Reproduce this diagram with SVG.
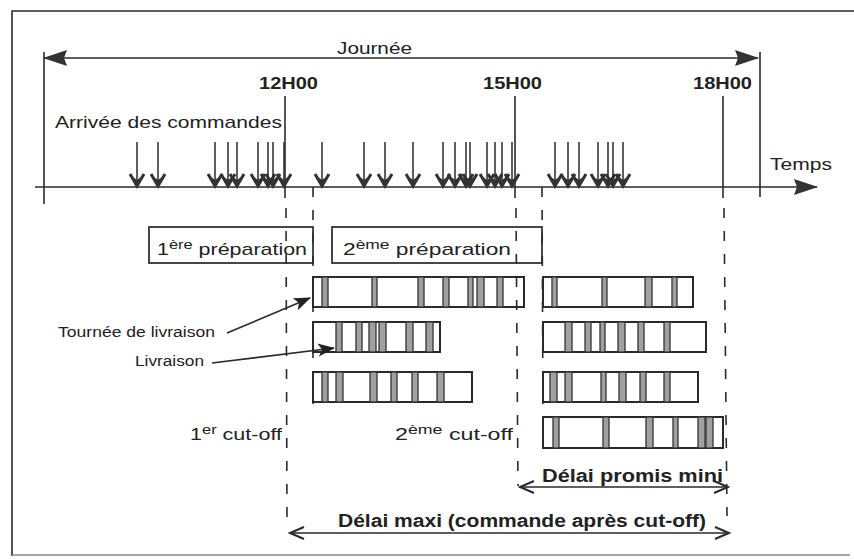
<svg xmlns="http://www.w3.org/2000/svg" width="854" height="559" viewBox="0 0 854 559">
<defs>
<style>
.t{font-family:"Liberation Sans",Arial,sans-serif;fill:#222;}
.r{font-size:17px;}
.b{font-size:17px;font-weight:bold;}
.bb{font-size:18px;font-weight:bold;}
.s{font-size:14px;}
.ln{stroke:#2a2a2a;stroke-width:1.6;fill:none;}
.dash{stroke:#2a2a2a;stroke-width:1.6;stroke-dasharray:10 13;fill:none;}
.box{fill:#fff;stroke:#333;stroke-width:1.8;}
.row{fill:#fff;stroke:#2a2a2a;stroke-width:2;}
.st{fill:#a0a0a0;stroke:#333;stroke-width:1.3;}
.ord{stroke:#2a2a2a;stroke-width:1.5;fill:none;marker-end:url(#oa);}
</style>
<marker id="oa" markerUnits="userSpaceOnUse" viewBox="-18 -10 20 20" refX="0" refY="0" markerWidth="20" markerHeight="20" orient="auto">
<path d="M-13,-7 L-1,0 L-13,7" fill="none" stroke="#333" stroke-width="3" stroke-linejoin="miter"/>
<path d="M0,0 L-10,-4 L-7,0 L-10,4 Z" fill="#333"/>
</marker>
<marker id="big" markerUnits="userSpaceOnUse" viewBox="-26 -10 28 20" refX="0" refY="0" markerWidth="28" markerHeight="20" orient="auto-start-reverse">
<path d="M1,0 L-23,-8 L-20,0 L-23,8 Z" fill="#333"/>
</marker>
<marker id="tri" markerUnits="userSpaceOnUse" viewBox="-18 -9 20 18" refX="0" refY="0" markerWidth="20" markerHeight="18" orient="auto">
<path d="M1,0 L-16,-6.5 L-12,0 L-16,6.5 Z" fill="#222"/>
</marker>
<marker id="chev" markerUnits="userSpaceOnUse" viewBox="-18 -9 20 18" refX="0" refY="0" markerWidth="20" markerHeight="18" orient="auto-start-reverse">
<path d="M-14,-6 L0,0 L-14,6" fill="none" stroke="#2a2a2a" stroke-width="2"/>
</marker>
</defs>
<rect x="0" y="0" width="854" height="559" fill="#fff"/>
<g id="frame" class="ln">
<path d="M12,556 L12,11 L854,11"/>
<path d="M12,555 L850,555" stroke="#888"/>
</g>

<g id="labels">
<text class="t r" x="337" y="54" textLength="75" lengthAdjust="spacingAndGlyphs">Journée</text>
<text class="t b" x="259" y="89" textLength="59" lengthAdjust="spacingAndGlyphs">12H00</text>
<text class="t b" x="483" y="89" textLength="59" lengthAdjust="spacingAndGlyphs">15H00</text>
<text class="t b" x="693" y="89" textLength="59" lengthAdjust="spacingAndGlyphs">18H00</text>
<text class="t r" x="55" y="128" textLength="227" lengthAdjust="spacingAndGlyphs">Arrivée des commandes</text>
<text class="t r" x="770" y="170" textLength="62" lengthAdjust="spacingAndGlyphs">Temps</text>
<text class="t s" x="58" y="337" textLength="157" lengthAdjust="spacingAndGlyphs">Tournée de livraison</text>
<text class="t s" x="135" y="366" textLength="69" lengthAdjust="spacingAndGlyphs">Livraison</text>
<text class="t r" x="190" y="440" textLength="92" lengthAdjust="spacingAndGlyphs">1<tspan font-size="13" dy="-6">er</tspan><tspan dy="6"> cut-off</tspan></text>
<text class="t r" x="395" y="440" textLength="118" lengthAdjust="spacingAndGlyphs">2<tspan font-size="13" dy="-6">ème</tspan><tspan dy="6"> cut-off</tspan></text>
<text class="t bb" x="542" y="482" textLength="181" lengthAdjust="spacingAndGlyphs">Délai promis mini</text>
<text class="t bb" x="338" y="527" textLength="368" lengthAdjust="spacingAndGlyphs">Délai maxi (commande après cut-off)</text>
</g>

<g id="prep1">
<rect class="box" x="149" y="227" width="164" height="36"/>
<text class="t r" x="157" y="255" textLength="150" lengthAdjust="spacingAndGlyphs">1<tspan font-size="13" dy="-6">ère</tspan><tspan dy="6"> préparation</tspan></text>
</g>
<g id="prep2">
<rect class="box" x="332" y="227" width="210" height="36"/>
<text class="t r" x="343" y="255" textLength="168" lengthAdjust="spacingAndGlyphs">2<tspan font-size="13" dy="-6">ème</tspan><tspan dy="6"> préparation</tspan></text>
</g>

<g id="tour-L1">
<rect class="row" x="313" y="277" width="211" height="30"/>
<rect class="st" x="322" y="277" width="6" height="30"/>
<rect class="st" x="372" y="277" width="5" height="30"/>
<rect class="st" x="418" y="277" width="6" height="30"/>
<rect class="st" x="443" y="277" width="6" height="30"/>
<rect class="st" x="468" y="277" width="5" height="30"/>
<rect class="st" x="477" y="277" width="7" height="30"/>
<rect class="st" x="497" y="277" width="6" height="30"/>
</g>
<g id="tour-L2">
<rect class="row" x="313" y="322" width="127" height="30"/>
<rect class="st" x="336" y="322" width="6" height="30"/>
<rect class="st" x="356" y="322" width="6" height="30"/>
<rect class="st" x="369" y="322" width="7" height="30"/>
<rect class="st" x="379" y="322" width="7" height="30"/>
<rect class="st" x="406" y="322" width="7" height="30"/>
<rect class="st" x="426" y="322" width="7" height="30"/>
</g>
<g id="tour-L3">
<rect class="row" x="313" y="372" width="159" height="30"/>
<rect class="st" x="322" y="372" width="6" height="30"/>
<rect class="st" x="336" y="372" width="7" height="30"/>
<rect class="st" x="370" y="372" width="7" height="30"/>
<rect class="st" x="391" y="372" width="6" height="30"/>
<rect class="st" x="412" y="372" width="6" height="30"/>
<rect class="st" x="437" y="372" width="7" height="30"/>
</g>
<g id="tour-R1">
<rect class="row" x="543" y="277" width="150" height="30"/>
<rect class="st" x="552" y="277" width="5" height="30"/>
<rect class="st" x="602" y="277" width="5" height="30"/>
<rect class="st" x="645" y="277" width="7" height="30"/>
<rect class="st" x="672" y="277" width="5" height="30"/>
</g>
<g id="tour-R2">
<rect class="row" x="543" y="322" width="163" height="30"/>
<rect class="st" x="565" y="322" width="7" height="30"/>
<rect class="st" x="585" y="322" width="6" height="30"/>
<rect class="st" x="600" y="322" width="5" height="30"/>
<rect class="st" x="618" y="322" width="7" height="30"/>
<rect class="st" x="638" y="322" width="6" height="30"/>
<rect class="st" x="664" y="322" width="6" height="30"/>
</g>
<g id="tour-R3">
<rect class="row" x="543" y="372" width="155" height="30"/>
<rect class="st" x="550" y="372" width="7" height="30"/>
<rect class="st" x="565" y="372" width="7" height="30"/>
<rect class="st" x="601" y="372" width="5" height="30"/>
<rect class="st" x="619" y="372" width="7" height="30"/>
<rect class="st" x="640" y="372" width="6" height="30"/>
<rect class="st" x="664" y="372" width="6" height="30"/>
</g>
<g id="tour-R4">
<rect class="row" x="543" y="417" width="180" height="31"/>
<rect class="st" x="553" y="417" width="6" height="31"/>
<rect class="st" x="603" y="417" width="6" height="31"/>
<rect class="st" x="646" y="417" width="7" height="31"/>
<rect class="st" x="673" y="417" width="5" height="31"/>
<rect class="st" x="698" y="417" width="7" height="31"/>
<rect class="st" x="706" y="417" width="7" height="31"/>
</g>

<g id="connectors">
<line class="ln" x1="44" y1="58" x2="758" y2="58" marker-start="url(#big)" marker-end="url(#big)"/>
<line class="ln" x1="44" y1="52" x2="44" y2="204"/>
<line class="ln" x1="760" y1="52" x2="760" y2="197"/>
<line class="ln" x1="35" y1="187" x2="817" y2="187" marker-end="url(#big)"/>
<line class="ln" x1="285" y1="96" x2="285" y2="198"/>
<line class="ln" x1="515" y1="96" x2="515" y2="198"/>
<line class="ln" x1="723" y1="96" x2="723" y2="198"/>
<line class="dash" x1="286" y1="208" x2="287" y2="525"/>
<line class="dash" x1="313" y1="187" x2="313" y2="416"/>
<line class="dash" x1="516" y1="208" x2="518" y2="486"/>
<line class="dash" x1="542" y1="187" x2="543" y2="416"/>
<line class="dash" x1="724" y1="208" x2="727" y2="516"/>
<g id="orders">
<line class="ord" x1="137" y1="142" x2="137" y2="187"/>
<line class="ord" x1="158" y1="142" x2="158" y2="187"/>
<line class="ord" x1="215" y1="142" x2="215" y2="187"/>
<line class="ord" x1="228" y1="142" x2="228" y2="187"/>
<line class="ord" x1="237" y1="142" x2="237" y2="187"/>
<line class="ord" x1="258" y1="142" x2="258" y2="187"/>
<line class="ord" x1="268" y1="142" x2="268" y2="187"/>
<line class="ord" x1="273" y1="142" x2="273" y2="187"/>
<line class="ord" x1="284" y1="142" x2="284" y2="187"/>
<line class="ord" x1="322" y1="142" x2="322" y2="187"/>
<line class="ord" x1="364" y1="142" x2="364" y2="187"/>
<line class="ord" x1="385" y1="142" x2="385" y2="187"/>
<line class="ord" x1="413" y1="142" x2="413" y2="187"/>
<line class="ord" x1="443" y1="142" x2="443" y2="187"/>
<line class="ord" x1="455" y1="142" x2="455" y2="187"/>
<line class="ord" x1="466" y1="142" x2="466" y2="187"/>
<line class="ord" x1="470" y1="142" x2="470" y2="187"/>
<line class="ord" x1="487" y1="142" x2="487" y2="187"/>
<line class="ord" x1="495" y1="142" x2="495" y2="187"/>
<line class="ord" x1="502" y1="142" x2="502" y2="187"/>
<line class="ord" x1="512" y1="142" x2="512" y2="187"/>
<line class="ord" x1="555" y1="142" x2="555" y2="187"/>
<line class="ord" x1="568" y1="142" x2="568" y2="187"/>
<line class="ord" x1="579" y1="142" x2="579" y2="187"/>
<line class="ord" x1="598" y1="142" x2="598" y2="187"/>
<line class="ord" x1="608" y1="142" x2="608" y2="187"/>
<line class="ord" x1="613" y1="142" x2="613" y2="187"/>
<line class="ord" x1="623" y1="142" x2="623" y2="187"/>
</g>
<line class="ln" x1="227" y1="333" x2="310" y2="298" marker-end="url(#tri)"/>
<line class="ln" x1="212" y1="363" x2="334" y2="348" marker-end="url(#tri)"/>
<line class="ln" x1="520" y1="487" x2="728" y2="487" stroke-width="2" marker-start="url(#chev)" marker-end="url(#chev)"/>
<line class="ln" x1="290" y1="533" x2="729" y2="533" stroke-width="2" marker-start="url(#chev)" marker-end="url(#chev)"/>
</g>
</svg>
